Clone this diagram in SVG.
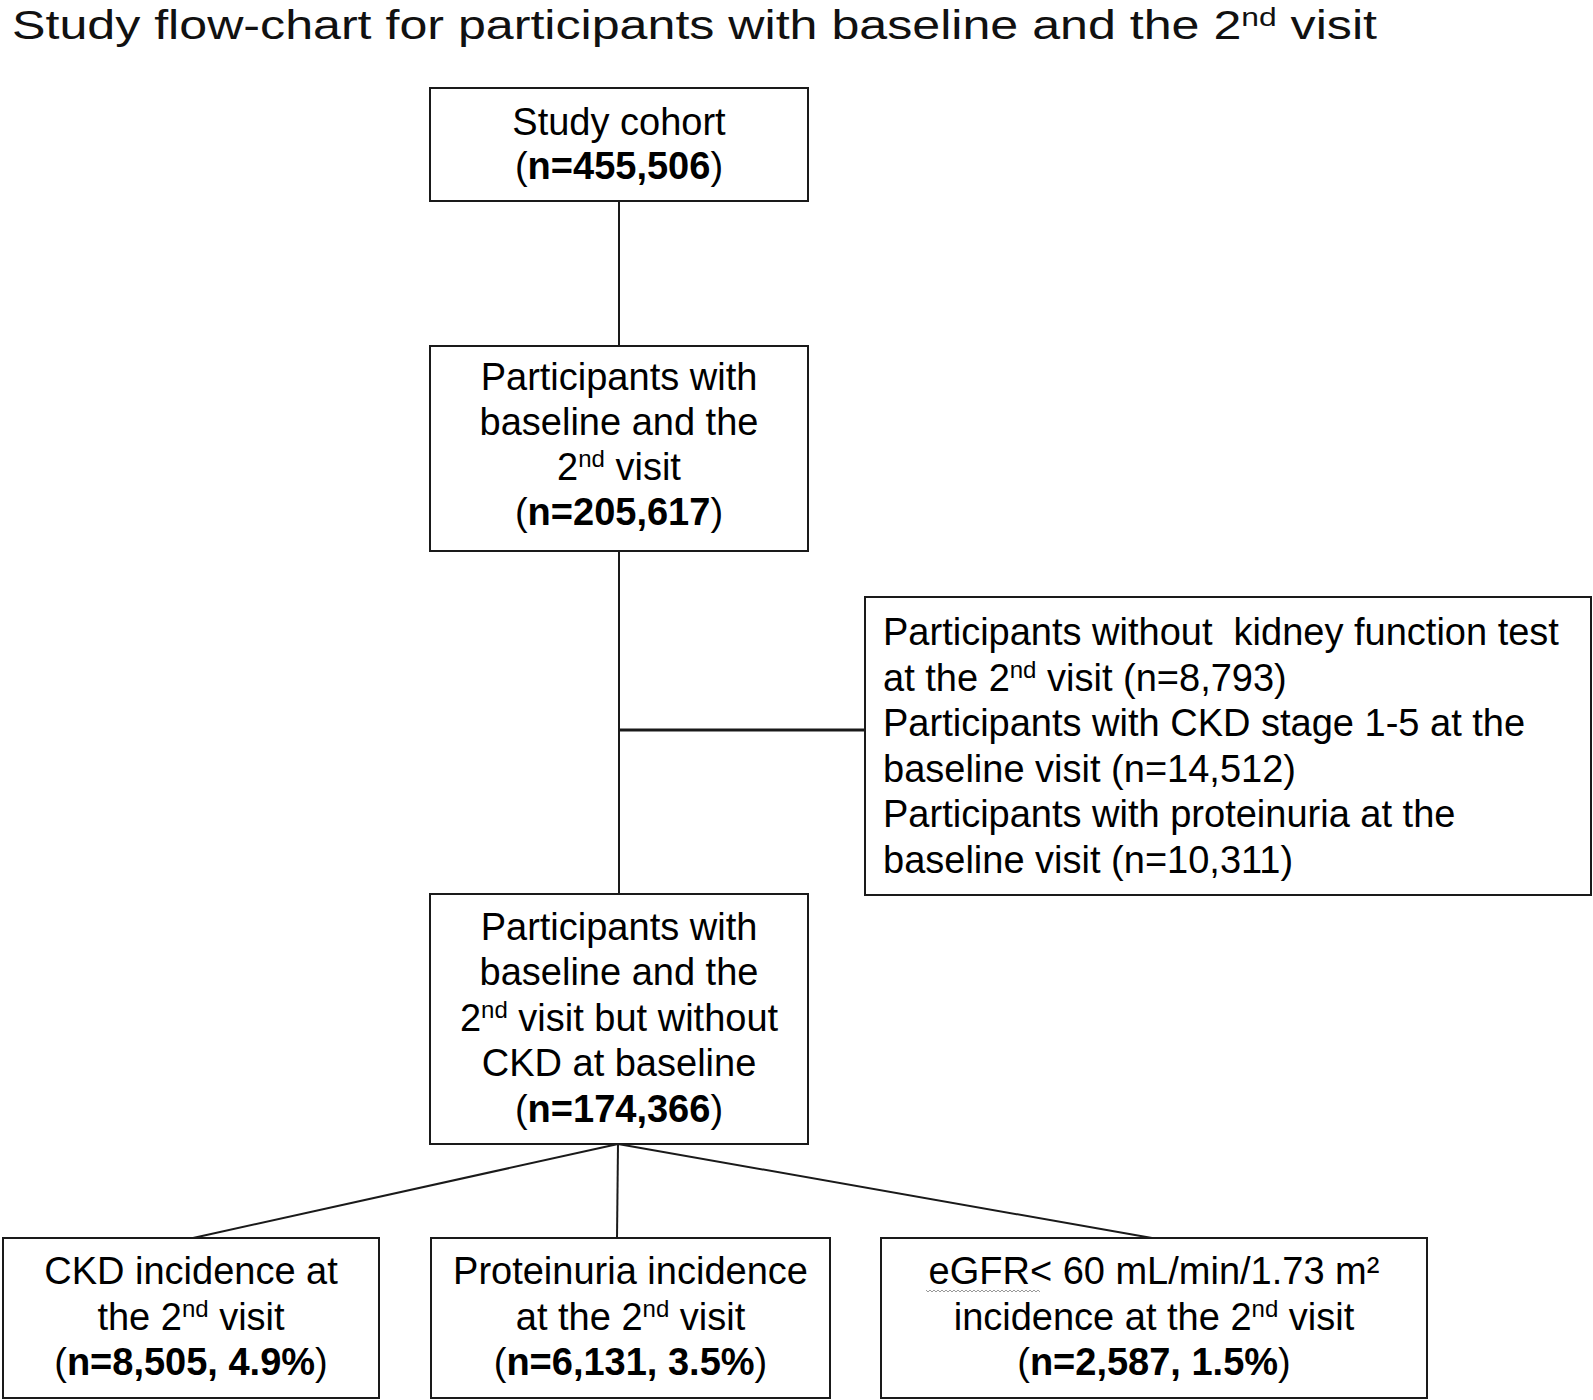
<svg xmlns="http://www.w3.org/2000/svg" width="1593" height="1400" viewBox="0 0 1593 1400">
<style>
.box{fill:#fff;stroke:#1a1a1a;stroke-width:2}
.t{font-family:"Liberation Sans",Arial,sans-serif;font-size:38px;fill:#000;text-anchor:middle}
.l{font-family:"Liberation Sans",Arial,sans-serif;font-size:38px;fill:#000}
.b{font-weight:bold}
.sup{font-size:24px;baseline-shift:13px}
.c{stroke:#1a1a1a;stroke-width:2;fill:none}
.thick{stroke-width:3}
.title{font-family:"Liberation Sans",Arial,sans-serif;font-size:41px;fill:#111}
.tsup{font-size:26px;baseline-shift:13px}
</style>
<rect width="1593" height="1400" fill="#fff"/>
<text class="title" x="12" y="39" textLength="1365" lengthAdjust="spacingAndGlyphs">Study flow-chart for participants with baseline and the 2<tspan class="tsup">nd</tspan> visit</text>

<g id="connectors">
<line class="c" x1="619" y1="201" x2="619" y2="346"/>
<line class="c" x1="619" y1="551" x2="619" y2="894"/>
<line class="c thick" x1="619" y1="730" x2="865" y2="730"/>
<line class="c" x1="618" y1="1144" x2="193" y2="1238"/>
<line class="c" x1="618" y1="1144" x2="617" y2="1238"/>
<line class="c" x1="618" y1="1144" x2="1152" y2="1238"/>
</g>

<g id="cohort">
<rect class="box" x="430" y="88" width="378" height="113"/>
<text class="t" x="619" y="135">Study cohort</text>
<text class="t" x="619" y="179">(<tspan class="b">n=455,506</tspan>)</text>
</g>

<g id="baseline2nd">
<rect class="box" x="430" y="346" width="378" height="205"/>
<text class="t" x="619" y="390">Participants with</text>
<text class="t" x="619" y="435">baseline and the</text>
<text class="t" x="619" y="480">2<tspan class="sup">nd</tspan> visit</text>
<text class="t" x="619" y="525">(<tspan class="b">n=205,617</tspan>)</text>
</g>

<g id="excluded">
<rect class="box" x="865" y="597" width="726" height="298"/>
<text class="l" x="883" y="645" xml:space="preserve" style="white-space:pre">Participants without  kidney function test</text>
<text class="l" x="883" y="690.5">at the 2<tspan class="sup">nd</tspan> visit (n=8,793)</text>
<text class="l" x="883" y="736">Participants with CKD stage 1-5 at the</text>
<text class="l" x="883" y="781.5">baseline visit (n=14,512)</text>
<text class="l" x="883" y="827">Participants with proteinuria at the</text>
<text class="l" x="883" y="872.5">baseline visit (n=10,311)</text>
</g>

<g id="noCKD">
<rect class="box" x="430" y="894" width="378" height="250"/>
<text class="t" x="619" y="940">Participants with</text>
<text class="t" x="619" y="985">baseline and the</text>
<text class="t" x="619" y="1030.5">2<tspan class="sup">nd</tspan> visit but without</text>
<text class="t" x="619" y="1076">CKD at baseline</text>
<text class="t" x="619" y="1121.5">(<tspan class="b">n=174,366</tspan>)</text>
</g>

<g id="ckd">
<rect class="box" x="3" y="1238" width="376" height="160"/>
<text class="t" x="191" y="1284">CKD incidence at</text>
<text class="t" x="191" y="1330">the 2<tspan class="sup">nd</tspan> visit</text>
<text class="t" x="191" y="1375">(<tspan class="b">n=8,505, 4.9%</tspan>)</text>
</g>

<g id="proteinuria">
<rect class="box" x="431" y="1238" width="399" height="160"/>
<text class="t" x="630.5" y="1284">Proteinuria incidence</text>
<text class="t" x="630.5" y="1330">at the 2<tspan class="sup">nd</tspan> visit</text>
<text class="t" x="630.5" y="1375">(<tspan class="b">n=6,131, 3.5%</tspan>)</text>
</g>

<g id="egfr">
<rect class="box" x="881" y="1238" width="546" height="160"/>
<text class="t" x="1154" y="1284">eGFR&lt; 60 mL/min/1.73 m²</text>
<path d="M926 1290 l2 2 l2 -2 l2 2 l2 -2 l2 2 l2 -2 l2 2 l2 -2 l2 2 l2 -2 l2 2 l2 -2 l2 2 l2 -2 l2 2 l2 -2 l2 2 l2 -2 l2 2 l2 -2 l2 2 l2 -2 l2 2 l2 -2 l2 2 l2 -2 l2 2 l2 -2 l2 2 l2 -2 l2 2 l2 -2 l2 2 l2 -2 l2 2 l2 -2 l2 2 l2 -2 l2 2 l2 -2 l2 2 l2 -2 l2 2 l2 -2 l2 2 l2 -2 l2 2 l2 -2 l2 2 l2 -2 l2 2 l2 -2 l2 2 l2 -2 l2 2 l2 -2 l2 2" fill="none" stroke="#999" stroke-width="1"/>
<text class="t" x="1154" y="1330">incidence at the 2<tspan class="sup">nd</tspan> visit</text>
<text class="t" x="1154" y="1375">(<tspan class="b">n=2,587, 1.5%</tspan>)</text>
</g>
</svg>
